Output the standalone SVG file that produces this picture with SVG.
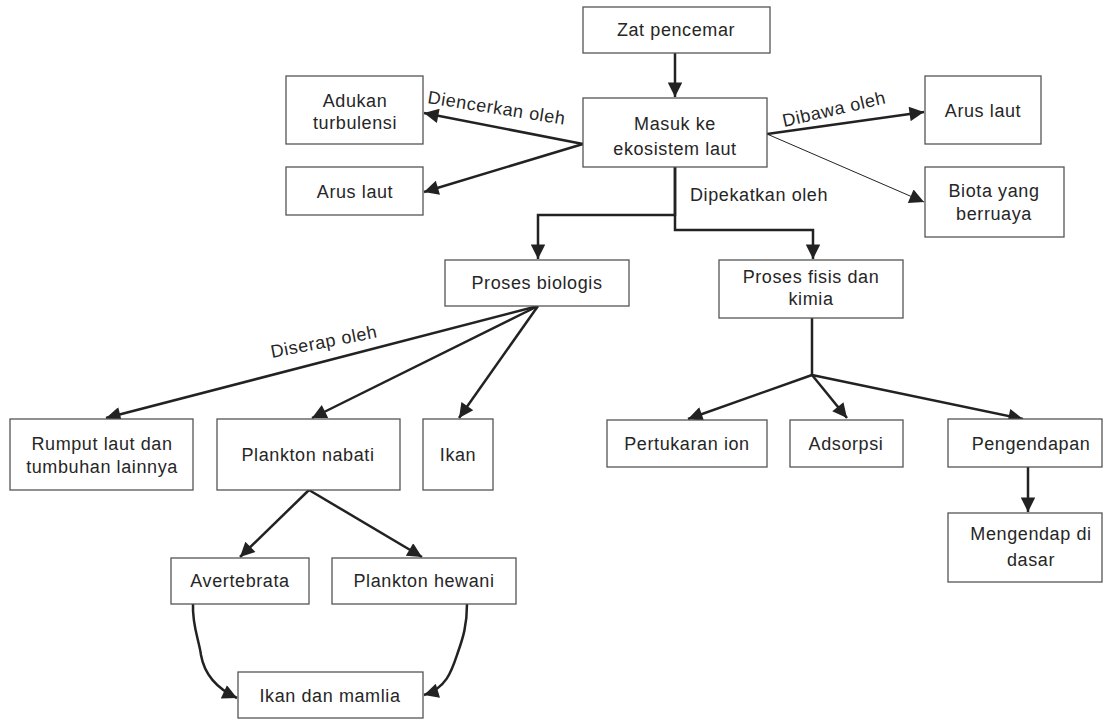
<svg xmlns="http://www.w3.org/2000/svg" width="1103" height="719" viewBox="0 0 1103 719">
<style>
.box{fill:#fff;stroke:#555;stroke-width:1.3}
.t{font-family:"Liberation Sans",Arial,sans-serif;font-size:18px;fill:#262626;text-anchor:middle;letter-spacing:0.6px}
.lbl{font-family:"Liberation Sans",Arial,sans-serif;font-size:18px;fill:#262626;letter-spacing:0.6px}
.c{fill:none;stroke:#222;stroke-width:2.5;marker-end:url(#ah)}
.thin{fill:none;stroke:#222;stroke-width:1;marker-end:url(#ahs)}
.ln{fill:none;stroke:#222;stroke-width:2.5}
</style>
<defs>
<marker id="ah" viewBox="0 0 10 10" refX="10" refY="5" markerWidth="7.6" markerHeight="5.8" orient="auto" markerUnits="strokeWidth">
<path d="M0,0 L10,5 L0,10 Z" fill="#222"/>
</marker>
<marker id="ahs" viewBox="0 0 10 10" refX="10" refY="5" markerWidth="19" markerHeight="14.5" orient="auto" markerUnits="strokeWidth">
<path d="M0,0 L10,5 L0,10 Z" fill="#222"/>
</marker>
</defs>
<rect width="1103" height="719" fill="#fff"/>
<g id="connectors">
<path class="c" d="M675,53 L675,97"/>
<path class="c" d="M583,144 L424,113"/>
<path class="c" d="M583,144 L424,192"/>
<path class="c" d="M767,134 L924,112"/>
<path class="thin" d="M767,134 L924,202"/>
<path class="c" d="M675,167 L675,215 L538,215 L538,259"/>
<path class="c" d="M675,167 L675,230 L813,230 L813,259"/>
<path class="c" d="M538,306 L106,418"/>
<path class="c" d="M538,306 L312,418"/>
<path class="c" d="M538,306 L459,418"/>
<path class="ln" d="M812,318 L812,375"/>
<path class="c" d="M812,375 L688,419"/>
<path class="c" d="M812,375 L847,418"/>
<path class="c" d="M812,375 L1023,419"/>
<path class="c" d="M1028,467 L1028,512"/>
<path class="c" d="M309,490 L240,557"/>
<path class="c" d="M309,490 L422,557"/>
<path class="c" d="M193,604 C192,625 199,640 201,655 C205,678 220,690 237,698"/>
<path class="c" d="M467,604 C467,625 463,638 458,652 C452,670 447,688 424,695"/>
<text class="lbl" x="427" y="103" transform="rotate(9 427 103)">Diencerkan oleh</text>
<text class="lbl" x="784" y="127" transform="rotate(-13 784 127)">Dibawa oleh</text>
<text class="lbl" x="690" y="201">Dipekatkan oleh</text>
<text class="lbl" x="272" y="358" transform="rotate(-11 272 358)">Diserap oleh</text>
</g>
<g id="n-zat"><rect class="box" x="583" y="7" width="187" height="46"/><text class="t" x="676" y="36">Zat pencemar</text></g>
<g id="n-masuk"><rect class="box" x="583" y="98" width="184" height="69"/><text class="t" x="675" y="130">Masuk ke</text><text class="t" x="675" y="155">ekosistem laut</text></g>
<g id="n-adukan"><rect class="box" x="286" y="76" width="137" height="68"/><text class="t" x="355" y="107">Adukan</text><text class="t" x="355" y="129">turbulensi</text></g>
<g id="n-arus1"><rect class="box" x="286" y="167" width="137" height="48"/><text class="t" x="355" y="198">Arus laut</text></g>
<g id="n-arus2"><rect class="box" x="925" y="76" width="116" height="68"/><text class="t" x="983" y="117">Arus laut</text></g>
<g id="n-biota"><rect class="box" x="925" y="167" width="139" height="70"/><text class="t" x="994" y="197">Biota yang</text><text class="t" x="994" y="220">berruaya</text></g>
<g id="n-biologis"><rect class="box" x="445" y="260" width="184" height="46"/><text class="t" x="537" y="289">Proses biologis</text></g>
<g id="n-fisis"><rect class="box" x="719" y="260" width="184" height="58"/><text class="t" x="811" y="283">Proses fisis dan</text><text class="t" x="811" y="305">kimia</text></g>
<g id="n-rumput"><rect class="box" x="10" y="419" width="183" height="71"/><text class="t" x="102" y="450">Rumput laut dan</text><text class="t" x="102" y="473">tumbuhan lainnya</text></g>
<g id="n-nabati"><rect class="box" x="217" y="419" width="183" height="71"/><text class="t" x="308" y="461">Plankton nabati</text></g>
<g id="n-ikan"><rect class="box" x="423" y="419" width="70" height="71"/><text class="t" x="458" y="461">Ikan</text></g>
<g id="n-pertukaran"><rect class="box" x="607" y="420" width="160" height="47"/><text class="t" x="687" y="450">Pertukaran ion</text></g>
<g id="n-adsorpsi"><rect class="box" x="790" y="420" width="113" height="47"/><text class="t" x="846" y="450">Adsorpsi</text></g>
<g id="n-pengendapan"><rect class="box" x="948" y="419" width="154" height="48"/><text class="t" x="1031" y="450">Pengendapan</text></g>
<g id="n-mengendap"><rect class="box" x="948" y="513" width="154" height="69"/><text class="t" x="1031" y="540">Mengendap di</text><text class="t" x="1031" y="566">dasar</text></g>
<g id="n-avertebrata"><rect class="box" x="171" y="558" width="138" height="46"/><text class="t" x="240" y="587">Avertebrata</text></g>
<g id="n-hewani"><rect class="box" x="332" y="558" width="184" height="46"/><text class="t" x="424" y="587">Plankton hewani</text></g>
<g id="n-mamlia"><rect class="box" x="238" y="672" width="185" height="46"/><text class="t" x="330" y="702">Ikan dan mamlia</text></g>
</svg>
